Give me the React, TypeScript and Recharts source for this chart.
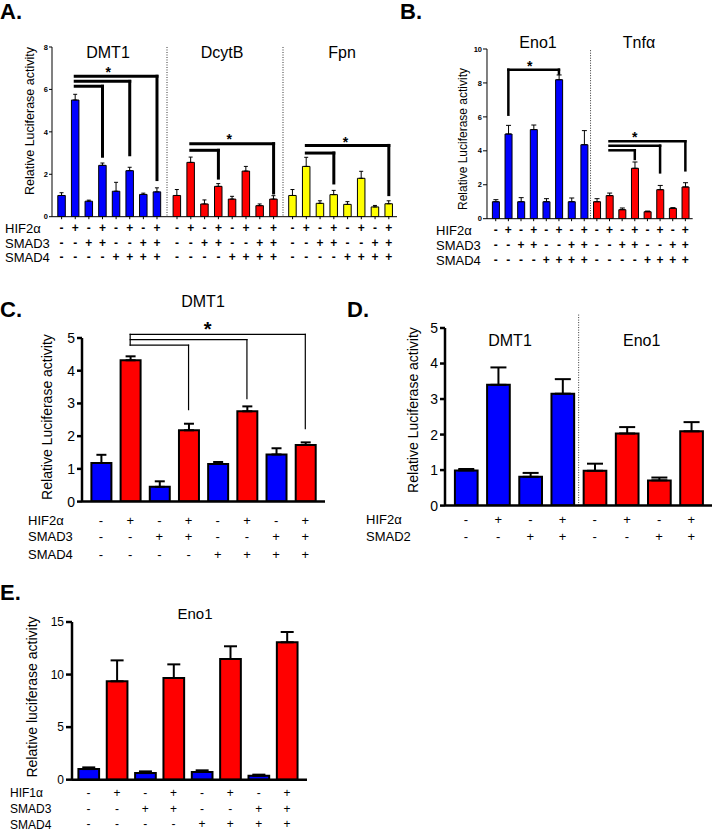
import React from 'react';
import { BarChart, Bar, XAxis, YAxis, Cell, ErrorBar, ReferenceLine, ReferenceDot } from 'recharts';

const FONT = '"Liberation Sans", Arial, Helvetica, sans-serif';
const BLUE = '#0000ff';
const RED = '#ff0000';
const YELLOW = '#ffff00';

// ---------- sign rows ----------
const SIGN_HIF = ['-', '+', '-', '+', '-', '+', '-', '+'];
const SIGN_SMAD3 = ['-', '-', '+', '+', '-', '-', '+', '+'];
const SIGN_SMAD4 = ['-', '-', '-', '-', '+', '+', '+', '+'];
const SIGN_SMAD2 = ['-', '-', '+', '+', '-', '-', '+', '+'];

// ---------- tick labels ----------
const A_TICKS = [0, 2, 4, 6, 8];
const B_TICKS = [0, 2, 4, 6, 8, 10];
const CD_TICKS = [0, 1, 2, 3, 4, 5];
const E_TICKS = [0, 5, 10, 15];

// ---------- panel A ----------
const A_DMT1 = [1.0, 5.5, 0.73, 2.42, 1.2, 2.17, 1.05, 1.17];
const A_DMT1_ERR = [0.13, 0.27, 0.05, 0.11, 0.42, 0.16, 0.06, 0.19];
const A_DCYTB = [1.0, 2.56, 0.6, 1.43, 0.83, 2.15, 0.52, 0.83];
const A_DCYTB_ERR = [0.28, 0.25, 0.19, 0.13, 0.13, 0.22, 0.08, 0.16];
const A_FPN = [1.0, 2.37, 0.63, 1.04, 0.58, 1.81, 0.46, 0.61];
const A_FPN_ERR = [0.28, 0.43, 0.12, 0.2, 0.13, 0.33, 0.07, 0.14];

// ---------- panel B ----------
const B_ENO1 = [1.0, 4.99, 1.0, 5.25, 1.0, 8.19, 1.0, 4.36];
const B_ENO1_ERR = [0.12, 0.51, 0.24, 0.27, 0.18, 0.28, 0.22, 0.83];
const B_TNF = [1.0, 1.36, 0.53, 2.97, 0.41, 1.71, 0.61, 1.87];
const B_TNF_ERR = [0.18, 0.15, 0.1, 0.37, 0.04, 0.25, 0.04, 0.25];

// ---------- panel C ----------
const C_DMT1 = [1.18, 4.32, 0.45, 2.18, 1.15, 2.76, 1.44, 1.73];
const C_DMT1_ERR = [0.25, 0.12, 0.17, 0.2, 0.06, 0.15, 0.19, 0.08];

// ---------- panel D ----------
const D_DMT1 = [0.99, 3.4, 0.81, 3.15];
const D_DMT1_ERR = [0.04, 0.49, 0.11, 0.41];
const D_ENO1 = [0.98, 2.03, 0.71, 2.09];
const D_ENO1_ERR = [0.2, 0.18, 0.08, 0.26];

// ---------- panel E ----------
const E_ENO1 = [1.01, 9.36, 0.63, 9.67, 0.73, 11.48, 0.38, 13.07];
const E_ENO1_ERR = [0.16, 1.99, 0.16, 1.3, 0.16, 1.21, 0.1, 0.98];

// ---------- significance brackets (bar index, value) ----------
type Bracket = { from: number; to: number; y: number; drop: number; startDrop?: number };
type Star = { at: number; y: number; dx: number };

const A_DMT1_BRACKETS: Bracket[] = [
  { from: 1, to: 7, y: 6.62, drop: 1.75 },
  { from: 1, to: 5, y: 6.38, drop: 2.92 },
  { from: 1, to: 3, y: 6.15, drop: 2.85 },
];
const A_DCYTB_BRACKETS: Bracket[] = [
  { from: 1, to: 7, y: 3.44, drop: 1.12 },
  { from: 1, to: 3, y: 3.13, drop: 1.82 },
];
const A_FPN_BRACKETS: Bracket[] = [
  { from: 1, to: 7, y: 3.36, drop: 1.04 },
  { from: 1, to: 3, y: 3.0, drop: 1.59 },
];
const B_BRACKETS: Bracket[] = [
  { from: 1, to: 5, y: 8.78, drop: 8.55, startDrop: 6.13 },
  { from: 9, to: 15, y: 4.56, drop: 2.85 },
  { from: 9, to: 13, y: 4.3, drop: 2.73 },
  { from: 9, to: 11, y: 4.03, drop: 3.52 },
];
const C_BRACKETS: Bracket[] = [
  { from: 1, to: 7, y: 5.11, drop: 2.23, startDrop: 4.78 },
  { from: 1, to: 5, y: 4.95, drop: 3.15 },
  { from: 1, to: 3, y: 4.78, drop: 2.81 },
];

const A_DMT1_STARS: Star[] = [{ at: 4, y: 6.93, dx: -8 }];
const A_DCYTB_STARS: Star[] = [{ at: 4, y: 3.79, dx: -3 }];
const A_FPN_STARS: Star[] = [{ at: 4, y: 3.66, dx: -2 }];
const B_STARS: Star[] = [{ at: 3, y: 9.17, dx: -4 }, { at: 11, y: 4.95, dx: 0 }];
const C_STARS: Star[] = [{ at: 4, y: 5.39, dx: -10 }];

interface PanelProps {
  plotLeft: number; plotTop: number; plotW: number; plotH: number;
  values: number[]; errors: number[]; colors: string[];
  domain: [number, number]; ticks?: number[];
  showYAxis?: boolean; dottedYAxis?: boolean;
  yTickSize?: number; yTickMargin?: number; yTickFontSize?: number; yTickBold?: boolean;
  axisWidth: number; xTickSize?: number;
  padL: number; padR: number;
  barSize: number; barStroke: number;
  errWidth: number; errStroke: number;
  rows: string[][]; rowYs: number[]; signSize: number; signBold?: boolean;
  brackets?: Bracket[]; bracketStroke?: number;
  stars?: Star[]; starSize?: number;
  separatorAt?: number; separatorTop?: number;
}

function Panel(p: PanelProps) {
  const mT = 45;
  const yW = p.showYAxis ? 40 : 1;
  const xH = 80;
  const divLeft = p.plotLeft - yW;
  const divTop = p.plotTop - mT;
  const width = yW + p.plotW;
  const height = mT + p.plotH + xH;
  const cats = p.values.map((_, i) => `c${i}`);
  const data = p.values.map((v, i) => ({ cat: cats[i], v, err: [0, p.errors[i]] }));

  const renderTick = (tp: any) => {
    const i = cats.indexOf(tp.payload.value);
    return (
      <g>
        {p.rows.map((row, r) => (
          <text key={r} x={tp.x} y={p.rowYs[r] - divTop} textAnchor="middle" dominantBaseline="central"
            fontSize={p.signSize} fontWeight={p.signBold ? 'bold' : 'normal'} fontFamily={FONT} fill="#000">
            {row[i]}
          </text>
        ))}
      </g>
    );
  };

  const segs: { x1: number; y1: number; x2: number; y2: number }[] = [];
  (p.brackets || []).forEach((b) => {
    segs.push({ x1: b.from, y1: b.y, x2: b.to, y2: b.y });
    segs.push({ x1: b.to, y1: b.y, x2: b.to, y2: b.drop });
    if (b.startDrop !== undefined) segs.push({ x1: b.from, y1: b.y, x2: b.from, y2: b.startDrop });
  });

  const starSize = p.starSize || 14;

  return (
    <div style={{ position: 'absolute', left: divLeft, top: divTop }}>
      <BarChart width={width} height={height} data={data} margin={{ top: mT, right: 0, bottom: 0, left: 0 }}>
        <XAxis dataKey="cat" type="category" interval={0} height={xH}
          padding={{ left: p.padL, right: p.padR }}
          tickSize={p.xTickSize || 0}
          tickLine={p.xTickSize ? { stroke: '#000', strokeWidth: 1 } : false}
          axisLine={{ stroke: '#000', strokeWidth: p.axisWidth }}
          tick={renderTick} />
        {p.showYAxis ? (
          <YAxis type="number" domain={p.domain} ticks={p.ticks} interval={0} width={yW} allowDataOverflow
            tickSize={p.yTickSize || 4} tickMargin={p.yTickMargin || 1}
            axisLine={{ stroke: '#000', strokeWidth: p.axisWidth }}
            tickLine={{ stroke: '#000', strokeWidth: p.axisWidth }}
            tick={{ fontSize: p.yTickFontSize || 12, fontWeight: p.yTickBold ? 'bold' : 'normal', fill: '#000', fontFamily: FONT }} />
        ) : (
          <YAxis type="number" domain={p.domain} ticks={p.ticks} width={yW} allowDataOverflow tick={false} tickLine={false}
            axisLine={p.dottedYAxis ? { stroke: '#333', strokeWidth: 1, strokeDasharray: '1 1.5' } : false} />
        )}
        <Bar dataKey="v" barSize={p.barSize} stroke="#000" strokeWidth={p.barStroke} isAnimationActive={false}>
          {data.map((d, i) => <Cell key={d.cat} fill={p.colors[i]} />)}
          <ErrorBar dataKey="err" width={p.errWidth} stroke="#000" strokeWidth={p.errStroke} direction="y" />
        </Bar>
        {p.separatorAt !== undefined && (
          <ReferenceLine segment={[{ x: cats[p.separatorAt], y: p.domain[0] }, { x: cats[p.separatorAt], y: p.separatorTop }]}
            position="start" stroke="#333" strokeWidth={1} strokeDasharray="1 1.5" ifOverflow="visible" />
        )}
        {segs.map((s, k) => (
          <ReferenceLine key={`s${k}`} segment={[{ x: cats[s.x1], y: s.y1 }, { x: cats[s.x2], y: s.y2 }]}
            stroke="#000" strokeWidth={p.bracketStroke || 1} strokeLinecap="square" ifOverflow="visible" />
        ))}
        {(p.stars || []).map((st, k) => (
          <ReferenceDot key={`st${k}`} x={cats[st.at]} y={st.y} r={0} ifOverflow="visible"
            shape={(sp: any) => (
              <text x={sp.cx + st.dx} y={sp.cy + starSize * 0.55} textAnchor="middle" fontSize={starSize}
                fontWeight="bold" fontFamily={FONT} fill="#000">*</text>
            )} />
        ))}
      </BarChart>
    </div>
  );
}

function Txt(props: { x: number; y: number; size: number; children: React.ReactNode; center?: boolean; bold?: boolean; rotate?: boolean }) {
  const { x, y, size, center, bold, rotate } = props;
  const style: React.CSSProperties = {
    position: 'absolute', left: x, top: rotate ? y : y - size / 2, fontSize: size, lineHeight: 1,
    fontFamily: FONT, fontWeight: bold ? 'bold' : 'normal', whiteSpace: 'nowrap', color: '#000',
  };
  if (rotate) style.transform = 'translate(-50%, -50%) rotate(-90deg)';
  else if (center) style.transform = 'translateX(-50%)';
  return <div style={style}>{props.children}</div>;
}

const rep = (c: string, n: number) => Array.from({ length: n }, () => c);

export default function App() {
  const A_ROWS = [SIGN_HIF, SIGN_SMAD3, SIGN_SMAD4];
  const A_ROWYS = [228.3, 243.3, 257.7];
  const E_ROWYS = [793, 809, 824.5];
  const aCommon = {
    plotTop: 47.3, plotH: 169.7, domain: [0, 8] as [number, number], ticks: A_TICKS,
    axisWidth: 1, yTickSize: 3, yTickMargin: 1, yTickFontSize: 7.5, yTickBold: true, xTickSize: 2.5,
    barSize: 7.5, barStroke: 1, errWidth: 2, errStroke: 1,
    rows: A_ROWS, rowYs: A_ROWYS, signSize: 12, signBold: true, bracketStroke: 3, starSize: 14,
  };
  const B_ROWS = [SIGN_HIF.concat(SIGN_HIF), SIGN_SMAD3.concat(SIGN_SMAD3), SIGN_SMAD4.concat(SIGN_SMAD4)];
  const alt = SIGN_HIF.map((s) => (s === '+' ? RED : BLUE));

  return (
    <div style={{ position: 'absolute', left: 0, top: 0, width: 713, height: 832, overflow: 'hidden', background: '#fff', fontFamily: FONT }}>
      {/* Panel A */}
      <Txt x={0} y={11.5} size={22} bold>A.</Txt>
      <Txt x={108} y={53} size={16} center>DMT1</Txt>
      <Txt x={222} y={53} size={16} center>DcytB</Txt>
      <Txt x={342} y={53} size={16} center>Fpn</Txt>
      <Txt x={30} y={121} size={12.5} rotate>Relative Luciferase activity</Txt>
      <Txt x={5} y={A_ROWYS[0]} size={13}>HIF2α</Txt>
      <Txt x={5} y={A_ROWYS[1]} size={13}>SMAD3</Txt>
      <Txt x={5} y={A_ROWYS[2]} size={13}>SMAD4</Txt>
      <Panel {...aCommon} plotLeft={51.7} plotW={115} padL={2.8} padR={3.2} showYAxis
        values={A_DMT1} errors={A_DMT1_ERR} colors={rep(BLUE, 8)} brackets={A_DMT1_BRACKETS} stars={A_DMT1_STARS} />
      <Panel {...aCommon} plotLeft={166.7} plotW={116} padL={3.1} padR={2.5} dottedYAxis
        values={A_DCYTB} errors={A_DCYTB_ERR} colors={rep(RED, 8)} brackets={A_DCYTB_BRACKETS} stars={A_DCYTB_STARS} />
      <Panel {...aCommon} plotLeft={282.7} plotW={114.5} padL={2.7} padR={1.8} dottedYAxis
        values={A_FPN} errors={A_FPN_ERR} colors={rep(YELLOW, 8)} brackets={A_FPN_BRACKETS} stars={A_FPN_STARS} />

      {/* Panel B */}
      <Txt x={400} y={11.5} size={22} bold>B.</Txt>
      <Txt x={538} y={43} size={16} center>Eno1</Txt>
      <Txt x={639} y={43} size={16} center>Tnfα</Txt>
      <Txt x={463} y={139} size={12} rotate>Relative Luciferase activity</Txt>
      <Txt x={436} y={230} size={13}>HIF2α</Txt>
      <Txt x={436} y={245.7} size={13}>SMAD3</Txt>
      <Txt x={436} y={260.7} size={13}>SMAD4</Txt>
      <Panel plotLeft={487.3} plotTop={49.3} plotW={205.7} plotH={169.7} padL={2.4} padR={1}
        values={B_ENO1.concat(B_TNF)} errors={B_ENO1_ERR.concat(B_TNF_ERR)} colors={rep(BLUE, 8).concat(rep(RED, 8))}
        domain={[0, 10]} ticks={B_TICKS} showYAxis axisWidth={1} yTickSize={4} yTickMargin={1} yTickFontSize={7.5} yTickBold
        xTickSize={2.5} barSize={7} barStroke={1} errWidth={2.5} errStroke={1}
        rows={B_ROWS} rowYs={[230, 245.7, 260.7]} signSize={12} signBold
        brackets={B_BRACKETS} bracketStroke={2.5} stars={B_STARS} starSize={14}
        separatorAt={8} separatorTop={10} />

      {/* Panel C */}
      <Txt x={0} y={309.5} size={22} bold>C.</Txt>
      <Txt x={203} y={302} size={16} center>DMT1</Txt>
      <Txt x={46.7} y={417} size={14} rotate>Relative Luciferase activity</Txt>
      <Txt x={28} y={520} size={13}>HIF2α</Txt>
      <Txt x={28} y={536.7} size={13}>SMAD3</Txt>
      <Txt x={28} y={554} size={13}>SMAD4</Txt>
      <Panel plotLeft={81.7} plotTop={337.7} plotW={243.3} plotH={163.6} padL={4.4} padR={5.4}
        values={C_DMT1} errors={C_DMT1_ERR} colors={alt}
        domain={[0, 5]} ticks={CD_TICKS} showYAxis axisWidth={2.5} yTickSize={5} yTickMargin={2} yTickFontSize={14}
        barSize={20} barStroke={2} errWidth={5} errStroke={2}
        rows={A_ROWS} rowYs={[520, 536.7, 554]} signSize={13}
        brackets={C_BRACKETS} bracketStroke={1.2} stars={C_STARS} starSize={20} />

      {/* Panel D */}
      <Txt x={347} y={309.5} size={22} bold>D.</Txt>
      <Txt x={510} y={341} size={16} center>DMT1</Txt>
      <Txt x={641.7} y={341} size={16} center>Eno1</Txt>
      <Txt x={413} y={410} size={14} rotate>Relative Luciferase activity</Txt>
      <Txt x={366} y={519.3} size={13}>HIF2α</Txt>
      <Txt x={366} y={536} size={13}>SMAD2</Txt>
      <Panel plotLeft={445} plotTop={327.7} plotW={267} plotH={177.6} padL={4.9} padR={4.6}
        values={D_DMT1.concat(D_ENO1)} errors={D_DMT1_ERR.concat(D_ENO1_ERR)} colors={rep(BLUE, 4).concat(rep(RED, 4))}
        domain={[0, 5]} ticks={CD_TICKS} showYAxis axisWidth={2.5} yTickSize={5} yTickMargin={2} yTickFontSize={14}
        barSize={22.7} barStroke={2} errWidth={8} errStroke={2}
        rows={[SIGN_HIF, SIGN_SMAD2]} rowYs={[519.3, 536]} signSize={13}
        separatorAt={4} separatorTop={5.4} />

      {/* Panel E */}
      <Txt x={0} y={592.5} size={22} bold>E.</Txt>
      <Txt x={195} y={613} size={15} center>Eno1</Txt>
      <Txt x={31.7} y={697} size={14} rotate>Relative luciferase activity</Txt>
      <Txt x={10} y={E_ROWYS[0]} size={12}>HIF1α</Txt>
      <Txt x={10} y={E_ROWYS[1]} size={12}>SMAD3</Txt>
      <Txt x={10} y={E_ROWYS[2]} size={12}>SMAD4</Txt>
      <Panel plotLeft={71.7} plotTop={622.3} plotW={235} plotH={157.7} padL={2.4} padR={5.8}
        values={E_ENO1} errors={E_ENO1_ERR} colors={alt}
        domain={[0, 15]} ticks={E_TICKS} showYAxis axisWidth={2.5} yTickSize={6} yTickMargin={2} yTickFontSize={12}
        barSize={20.7} barStroke={2} errWidth={6.5} errStroke={2}
        rows={A_ROWS} rowYs={E_ROWYS} signSize={12} />
    </div>
  );
}
